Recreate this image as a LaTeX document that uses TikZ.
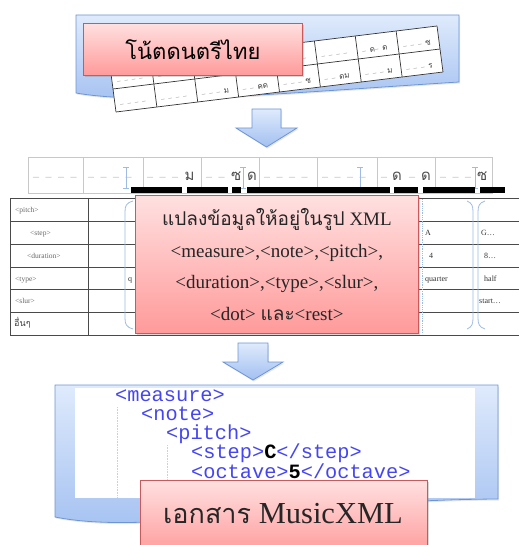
\documentclass[tikz,border=0pt]{standalone}
\usepackage{fontspec}
\setmainfont{Liberation Serif}
\newfontfamily\thai[Script=Thai]{Loma}
\newfontfamily\codefont{Liberation Mono}
\usetikzlibrary{shadows}
\definecolor{blueTop}{HTML}{DFEAFC}
\definecolor{blueBot}{HTML}{A2C0F1}
\definecolor{blueEdge}{HTML}{6E95D3}
\definecolor{redTop}{HTML}{FFE0E0}
\definecolor{redBot}{HTML}{FF9A9A}
\definecolor{redEdge}{HTML}{C9595A}
\definecolor{codeblue}{HTML}{4646F0}
\definecolor{dashgray}{HTML}{B8B8B8}
\definecolor{cellgray}{HTML}{C8C8C8}
\definecolor{cursorblue}{HTML}{9DBBE3}
\definecolor{guidegray}{HTML}{D0D0D0}
\definecolor{tabline}{HTML}{4A4A4A}
\definecolor{labgray}{HTML}{666666}
\newcommand\dsh{\makebox[12.5pt][l]{\rmfamily\fontsize{12}{12}\selectfont\textcolor{dashgray}{–}}}
\newcommand\pds{\makebox[7.4pt][l]{\rmfamily\fontsize{7}{7}\selectfont\textcolor{gray}{–}}}
\begin{document}
\begin{tikzpicture}[x=1pt,y=-1pt,
  docshape/.style={draw=blueEdge, line width=0.8pt, top color=blueTop, bottom color=blueBot,
    drop shadow={opacity=0.2, shadow xshift=1pt, shadow yshift=-1.5pt}},
  redbox/.style={draw=redEdge, line width=0.8pt, top color=redTop, bottom color=redBot,
    inner sep=0pt, anchor=north west,
    drop shadow={opacity=0.3, shadow xshift=1.5pt, shadow yshift=-1.5pt}},
  blockarrow/.style={draw=blueEdge, line width=0.8pt, top color=blueTop, bottom color=blueBot,
    drop shadow={opacity=0.2, shadow xshift=1pt, shadow yshift=-1.5pt}},
  papertext/.style={anchor=base west, inner sep=0pt, rotate=7, text=black!75,
    font=\thai\fontsize{8}{8}\selectfont},
  celltext/.style={anchor=base west, inner sep=0pt, text=black!70,
    font=\thai\fontsize{15}{15}\selectfont},
  rowlabel/.style={anchor=base west, inner sep=0pt, text=labgray, font=\fontsize{7.5}{7.5}\selectfont},
  valtext/.style={anchor=base west, inner sep=0pt, text=black!80, font=\fontsize{8}{8}\selectfont},
  codeline/.style={anchor=base west, inner sep=0pt, text=codeblue, text height=13pt, text depth=4pt,
    font=\codefont\fontsize{20.3}{20.3}\selectfont},
  cursor/.style={draw=cursorblue, line width=1pt},
  bracket/.style={draw=cursorblue, line width=0.8pt}]
\useasboundingbox (0,0) rectangle (519,545);
\clip (0,0) rectangle (519,545);

% ---------- top: Thai notation sheet ----------
\path[docshape] (76,15) -- (459,15) -- (459,82) .. controls (300,92) and (150,106) .. (76,93) -- cycle;
\begin{scope}[x={(40.875pt,5pt)}, y={(-3pt,23pt)}, shift={(116pt,-112pt)}]
  \fill[white] (0,0) -- (8,0) -- (8,2) -- (0,2) -- cycle;
  \draw[black!80, line width=0.7pt] (0,0) -- (8,0) (0,1) -- (8,1) (0,2) -- (8,2);
  \foreach \i in {0,...,8} \draw[black!80, line width=0.7pt] (\i,0) -- (\i,2);
  \foreach \t [count=\i from 0] in {\pds\pds\pds\pds, \pds\pds\pds\pds, \pds\pds\pds ม, \pds\pds คด,
      \pds\pds\pds ซ, \pds\pds ดม, \pds\pds\pds ม, \pds\pds\pds ร}
    \node[papertext] (pb\i) at (\i+0.12,0.22) {\t};
  \foreach \t/\i in {\pds\pds\pds\pds/0, \pds\pds\pds\pds/1, \pds\pds\pds\pds/4,
      \pds\pds\pds\pds/5, \pds ด\pds ด/6, \pds\pds\pds ซ/7}
    \node[papertext] (pt\i) at (\i+0.12,1.22) {\t};
\end{scope}
\node[redbox, minimum width=219pt, minimum height=52pt, font=\thai\fontsize{22}{22}\selectfont] (title) at (83,23) {โน้ตดนตรีไทย};

% arrow 1
\coordinate (a1) at (266.5,109);
\path[blockarrow] (252,109) -- (281,109) -- (281,128) -- (297,128) -- (266.5,147) -- (236,128) -- (252,128) -- cycle;

% ---------- middle: cells with cursor ----------
\foreach \a/\b [count=\i] in {28/83,83/143,143/201,201/259,259/317,317/377,377/435,435/492}
  \draw[cellgray, line width=0.6pt] (\a,157) rectangle (\b,193);
\node[celltext] (m1) at (33,181) {\dsh\dsh\dsh\dsh};
\node[celltext] (m2) at (88,181) {\dsh\dsh\dsh\dsh};
\node[celltext] (m3) at (147,181) {\dsh\dsh\dsh ม};
\node[celltext] (m4) at (206,181) {\dsh\dsh ซ};
\node[celltext] (m4b) at (247,181) {ด};
\node[celltext] (m5) at (264,181) {\dsh\dsh\dsh\dsh};
\node[celltext] (m6) at (322,181) {\dsh\dsh\dsh\dsh};
\node[celltext] (m7) at (381,181) {\dsh};
\node[celltext] (m7b) at (392,181) {ด};
\node[celltext] (m7c) at (409,181) {\dsh};
\node[celltext] (m7d) at (421,181) {ด};
\node[celltext] (m8) at (440,181) {\dsh\dsh\dsh};
\node[celltext] (m8b) at (477,181) {ซ};
\foreach \x in {126,243,360,475} {
  \draw[cursor] (\x,167) -- (\x,188);
  \draw[cursorblue, line width=0.8pt] (\x-3,167) -- (\x+3,167) (\x-3,188) -- (\x+3,188);
}
\foreach \a/\b in {131/182,187/228,232/241,247/390,394/418,423/475,480/505}
  \fill[black] (\a,187) rectangle (\b,193);

% table
\foreach \y in {198,221,244,267,289,312,335}
  \draw[tabline, line width=0.7pt] (10,\y) -- (519,\y);
\draw[tabline, line width=0.7pt] (10,198) -- (10,335) (88,198) -- (88,335);
\node[rowlabel] (l1) at (15,212) {<pitch>};
\node[rowlabel] (l2) at (30,235) {<step>};
\node[rowlabel] (l3) at (27,258) {<duration>};
\node[rowlabel] (l4) at (15,281) {<type>};
\node[rowlabel] (l5) at (15,303) {<slur>};
\node[rowlabel, text=black!75, font=\thai\fontsize{9}{9}\selectfont] (l6) at (14,326) {อื่นๆ};
\node[valtext] (q) at (128,281) {q};
\node[valtext] (vA) at (425,235) {A};
\node[valtext] (vG) at (481,235) {G…};
\node[valtext] (v4) at (429,258) {4};
\node[valtext] (v8) at (484,258) {8…};
\node[valtext] (vq) at (425,281) {quarter};
\node[valtext] (vh) at (484,281) {half};
\node[valtext] (vs) at (479,303) {start…};
\draw[cursorblue, densely dotted, line width=0.8pt] (422,199) -- (422,334);
\draw[bracket] (133,201) .. controls (126,203) and (125,206) .. (125,212) -- (125,318) .. controls (125,324) and (126,327) .. (133,329);
\draw[bracket] (467,201) .. controls (472,203) and (473,206) .. (473,212) -- (473,318) .. controls (473,324) and (472,327) .. (467,329);
\draw[bracket] (485,201) .. controls (479,203) and (478,206) .. (478,212) -- (478,318) .. controls (478,324) and (479,327) .. (485,329);

\node[redbox, minimum width=283pt, minimum height=138pt, align=center, text=black!85,
  font=\fontsize{19}{31.5}\selectfont] (convert) at (135,195)
  {{\thai แปลงข้อมูลให้อยู่ในรูป} XML\\<measure>,<note>,<pitch>,\\<duration>,<type>,<slur>,\\<dot> {\thai และ}<rest>};

% arrow 2
\coordinate (a2) at (253,343);
\path[blockarrow] (238,343) -- (268,343) -- (268,362) -- (283,362) -- (253,380) -- (223,362) -- (238,362) -- cycle;

% ---------- bottom: MusicXML document ----------
\path[docshape] (55,385) -- (498,385) -- (498,499) .. controls (300,500) and (150,536) .. (55,517) -- cycle;
\fill[white] (75,388) rectangle (475,498);
\draw[guidegray, densely dotted, line width=0.6pt] (117,407) -- (117,498) (167,445) -- (167,498);
\node[codeline] (c1) at (115,401) {<measure>};
\node[codeline] (c2) at (141,420) {<note>};
\node[codeline] (c3) at (166,439) {<pitch>};
\node[codeline] (c4) at (191,458) {<step>\textcolor{black}{\textbf{C}}</step>};
\node[codeline] (c5) at (191,478) {<octave>\textcolor{black}{\textbf{5}}</octave>};
\node[redbox, minimum width=287pt, minimum height=75pt] (doc) at (140,480) {};
\node[anchor=base, inner sep=0pt, text=black!85, font=\fontsize{30.5}{30.5}\selectfont] (doctext) at (283,523)
  {{\thai\fontsize{27}{27}\selectfont เอกสาร} MusicXML};
\end{tikzpicture}
\end{document}
